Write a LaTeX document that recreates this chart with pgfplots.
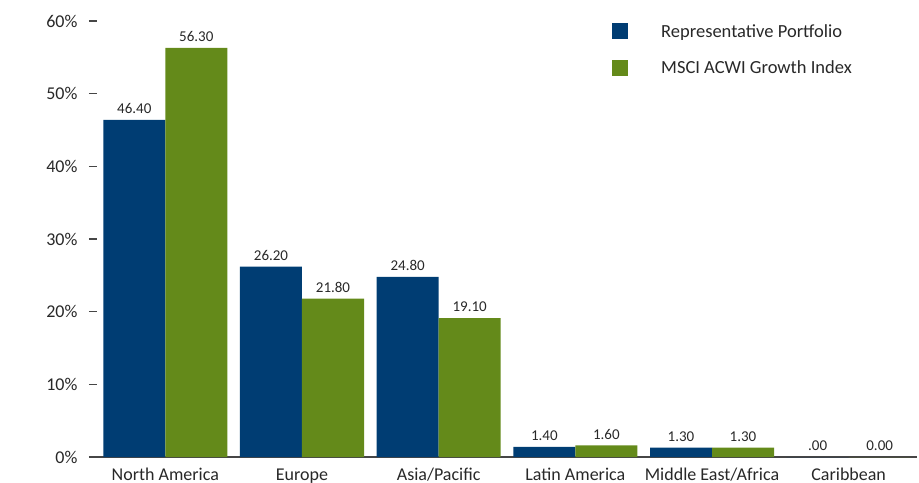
\documentclass[border=0pt]{standalone}
\usepackage{pgfplots}
\pgfplotsset{compat=1.18}
\usepackage{pgfplotstable}
\usepackage{fontspec}
\setmainfont{Carlito}
\definecolor{rpblue}{RGB}{0,61,115}
\definecolor{msgreen}{RGB}{100,138,26}
\definecolor{txt}{RGB}{40,40,40}
\definecolor{axgray}{RGB}{70,70,70}
\pgfplotstableread{
x y lab
0 46.4 46.40
1 26.2 26.20
2 24.8 24.80
3 1.4 1.40
4 1.3 1.30
5 0 .00
}\rp
\pgfplotstableread{
x y lab
0 56.3 56.30
1 21.8 21.80
2 19.1 19.10
3 1.6 1.60
4 1.3 1.30
5 0 0.00
}\ms
\begin{document}
\begin{tikzpicture}
\begin{axis}[
  name=ax,
  scale only axis,
  width=820bp, height=436bp,
  ybar=0pt, bar width=62bp,
  xmin=-0.5, xmax=5.5, ymin=0, ymax=60,
  axis x line*=bottom,
  axis y line*=left,
  y axis line style={draw=none},
  x axis line style={draw=axgray, line width=2bp},
  xtick=data,
  xticklabels={North America,Europe,Asia/Pacific,Latin America,Middle East/Africa,Caribbean},
  x tick style={draw=none},
  major tick length=8bp,
  ytick={0,10,...,60},
  y tick style={draw=axgray, line width=1.5bp},
  tick align=outside,
  yticklabel={\pgfmathprintnumber{\tick}\%},
  /pgf/number format/assume math mode=true,
  ticklabel style={font=\fontsize{18bp}{20bp}\selectfont, text=txt},
  yticklabel style={xshift=-8bp},
  xticklabel style={anchor=base, yshift=-15bp},
  point meta=explicit symbolic,
  nodes near coords,
  nodes near coords style={font=\fontsize{15bp}{16bp}\selectfont, text=txt, anchor=south, inner sep=0pt, yshift=6bp},
  clip=false,
  legend cell align=left,
  legend style={at={(515bp,435bp)}, anchor=north west, draw=none, fill=none, inner sep=0pt,
    font=\fontsize{18.5bp}{20bp}\selectfont, text=txt, row sep=18bp,
    nodes={inner xsep=0pt, inner ysep=2bp}},
  legend image code/.code={\fill[#1] (0bp,-8bp) rectangle (16bp,8bp); \path (49bp,0);},
]
\addplot[fill=rpblue, draw=none] table[x=x,y=y,meta=lab]{\rp};
\addplot[fill=msgreen, draw=none] table[x=x,y=y,meta=lab]{\ms};
\legend{Representative Portfolio,MSCI ACWI Growth Index}
\end{axis}
\pgfresetboundingbox
\path[use as bounding box] ([shift={(-97bp,-26bp)}]ax.south west) rectangle ([shift={(822bp,457bp)}]ax.south west);
\end{tikzpicture}
\end{document}
